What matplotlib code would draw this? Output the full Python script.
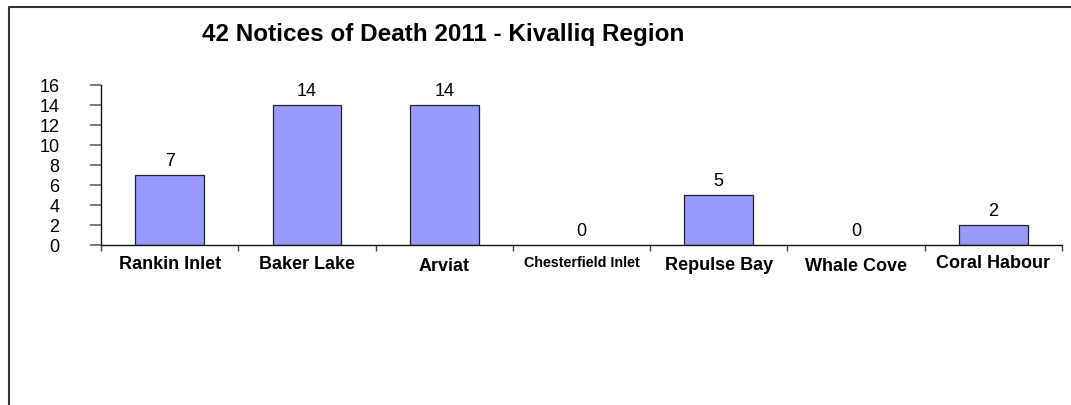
import matplotlib
matplotlib.use("Agg")
import matplotlib.pyplot as plt
from matplotlib.lines import Line2D
import numpy as np

plt.rcParams['font.family'] = ['Liberation Sans', 'DejaVu Sans']

# Data
communities = ["Rankin Inlet", "Baker Lake", "Arviat", "Chesterfield Inlet",
               "Repulse Bay", "Whale Cove", "Coral Habour"]
deaths = [7, 14, 14, 0, 5, 0, 2]
y_ticks = [0, 2, 4, 6, 8, 10, 12, 14, 16]
title = "42 Notices of Death 2011 - Kivalliq Region"

# Per-label styling (font size, vertical nudge in points)
label_sizes = [13, 13, 13, 10.3, 13, 13, 13]
label_nudge = [0, 0, 1.5, 0, 0.8, 1.5, -0.8]

W, H = 1071, 406
fig = plt.figure(figsize=(W / 100, H / 100), dpi=100)
fig.patch.set_facecolor("white")

# Outer frame: top and left edges only
fig.add_artist(Line2D([9 / W, 9 / W, 1.0], [0.0, 1 - 7.5 / H, 1 - 7.5 / H],
                      transform=fig.transFigure, color="#333333", lw=1.5))

ax = fig.add_axes([101 / W, 1 - 246 / H, (1062 - 101) / W, (246 - 86) / H])
x = np.arange(len(communities))
edge_widths = [0.9 if v > 0 else 0 for v in deaths]
bars = ax.bar(x, deaths, width=0.5, color="#9999FF", edgecolor="#222222",
              linewidth=edge_widths, zorder=2)

ax.set_xlim(-0.5, len(communities) - 0.5)
ax.set_ylim(0, 16)
ax.set_yticks(y_ticks)
ax.set_yticklabels([str(v) for v in y_ticks], fontsize=13)
ax.tick_params(axis="y", direction="out", length=8, width=1.2, color="#666666", pad=22)

# Category labels centred under bars, boundary ticks between categories
ax.set_xticks(x)
ax.set_xticklabels(communities, fontweight="bold")
ax.tick_params(axis="x", which="major", length=0, pad=7)
for lbl, size, dy in zip(ax.get_xticklabels(), label_sizes, label_nudge):
    lbl.set_fontsize(size)
    lbl.set_y(-dy / 72 * 100 / ((246 - 86)))
ax.set_xticks(np.arange(-0.5, len(communities) + 0.5, 1), minor=True)
ax.tick_params(axis="x", which="minor", direction="out", length=4, width=1, color="#444444")

for s in ["top", "right"]:
    ax.spines[s].set_visible(False)
for s in ["left", "bottom"]:
    ax.spines[s].set_color("#111111")
    ax.spines[s].set_linewidth(1.0)

for xi, v in zip(x, deaths):
    ax.annotate(str(v), (xi, v), xytext=(0, 4.5), textcoords="offset points",
                ha="center", va="bottom", fontsize=13)

fig.text(443 / W, 1 - 34.5 / H, title, ha="center", va="center",
         fontsize=17.5, fontweight="bold")

fig.savefig("out.png", dpi=100, facecolor="white")
